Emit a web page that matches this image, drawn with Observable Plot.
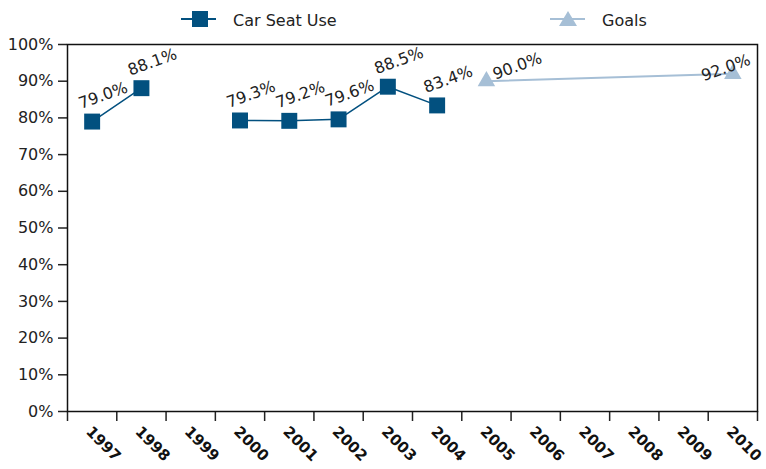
<!DOCTYPE html>
<html><head><meta charset="utf-8">
<script src="https://cdn.jsdelivr.net/npm/d3@7"></script>
<script src="https://cdn.jsdelivr.net/npm/@observablehq/plot@0.6"></script>
<style>
body{margin:0;background:#fff;font-family:"DejaVu Sans",sans-serif;}
#legend{display:block;}
</style></head><body>
<svg id="legend" width="766" height="38" font-family="DejaVu Sans" font-size="16" fill="#222"></svg>
<div id="chart"></div>
<script>
const years = [1997,1998,1999,2000,2001,2002,2003,2004,2005,2006,2007,2008,2009,2010];
const carSeatUse = [0.790,0.881,null,0.793,0.792,0.796,0.885,0.834,null,null,null,null,null,null];
const goalYears = [2005, 2010];
const goalValues = [0.900, 0.920];
const yTickValues = [0,0.1,0.2,0.3,0.4,0.5,0.6,0.7,0.8,0.9,1.0];
const seriesNames = ["Car Seat Use", "Goals"];

const dark = "#02507f";
const light = "#a6bfd6";

const carData = years.map((y,i) => ({year: y, v: carSeatUse[i]}));
const goalData = goalYears.map((y,i) => ({year: y, v: goalValues[i]}));
const boundaries = years.map(y => y - 0.5).concat([years[years.length-1] + 0.5]);
const pct = d3.format(".1%");

// legend
const lg = d3.select("#legend");
lg.append("line").attr("x1",181).attr("x2",216).attr("y1",19).attr("y2",19).attr("stroke",dark).attr("stroke-width",2);
lg.append("rect").attr("x",192).attr("y",11).attr("width",16).attr("height",16).attr("fill",dark);
lg.append("text").attr("x",233).attr("y",26).text(seriesNames[0]);
lg.append("line").attr("x1",550).attr("x2",585).attr("y1",19).attr("y2",19).attr("stroke",light).attr("stroke-width",2);
lg.append("polygon").attr("points","568,11 577,26 559,26").attr("fill",light);
lg.append("text").attr("x",602).attr("y",26).text(seriesNames[1]);

const chart = Plot.plot({
  width: 766, height: 431,
  marginLeft: 67, marginRight: 9, marginTop: 6, marginBottom: 58,
  style: {fontFamily: "DejaVu Sans", fontSize: "16px", color: "#222", background: "#fff", overflow: "visible"},
  x: {domain: [boundaries[0], boundaries[boundaries.length-1]], axis: null},
  y: {domain: [0, 1], axis: null},
  marks: [
    Plot.axisY({ticks: yTickValues, tickFormat: d3.format(".0%"), tickSize: 9, tickPadding: 5, strokeWidth: 1.5, stroke: "#222", label: null, fontSize: 16}),
    Plot.axisX({ticks: boundaries, tickFormat: () => "", tickSize: 10, strokeWidth: 1.5, stroke: "#222", label: null}),
    Plot.frame({stroke: "#111", strokeWidth: 1.5}),
    Plot.text(years, {x: d => d, text: d => String(d), frameAnchor: "bottom", rotate: 45, textAnchor: "start", dx: -7, dy: 21, fontWeight: "bold", fontSize: 15, fill: "#111"}),
    Plot.line(goalData, {x: "year", y: "v", stroke: light, strokeWidth: 2}),
    Plot.line(carData, {x: "year", y: "v", stroke: dark, strokeWidth: 1.5}),
    Plot.dot(goalData, {x: "year", y: "v", symbol: "triangle", r: 6.5, fill: light}),
    Plot.dot(carData.filter(d => d.v != null), {x: "year", y: "v", symbol: "square", r: 9, fill: dark}),
    Plot.text(carData.filter(d => d.v != null), {x: "year", y: "v", text: d => pct(d.v), rotate: -20, dx: 11, dy: -26, fontSize: 16, fill: "#222"}),
    Plot.text(goalData.filter((d,i) => i === 0), {x: "year", y: "v", text: d => pct(d.v), rotate: -20, dx: 31, dy: -15, fontSize: 16, fill: "#222"}),
    Plot.text(goalData.filter((d,i) => i === 1), {x: "year", y: "v", text: d => pct(d.v), rotate: -20, dx: -7, dy: -6, fontSize: 16, fill: "#222"})
  ]
});
document.getElementById("chart").append(chart);
</script>
</body></html>
